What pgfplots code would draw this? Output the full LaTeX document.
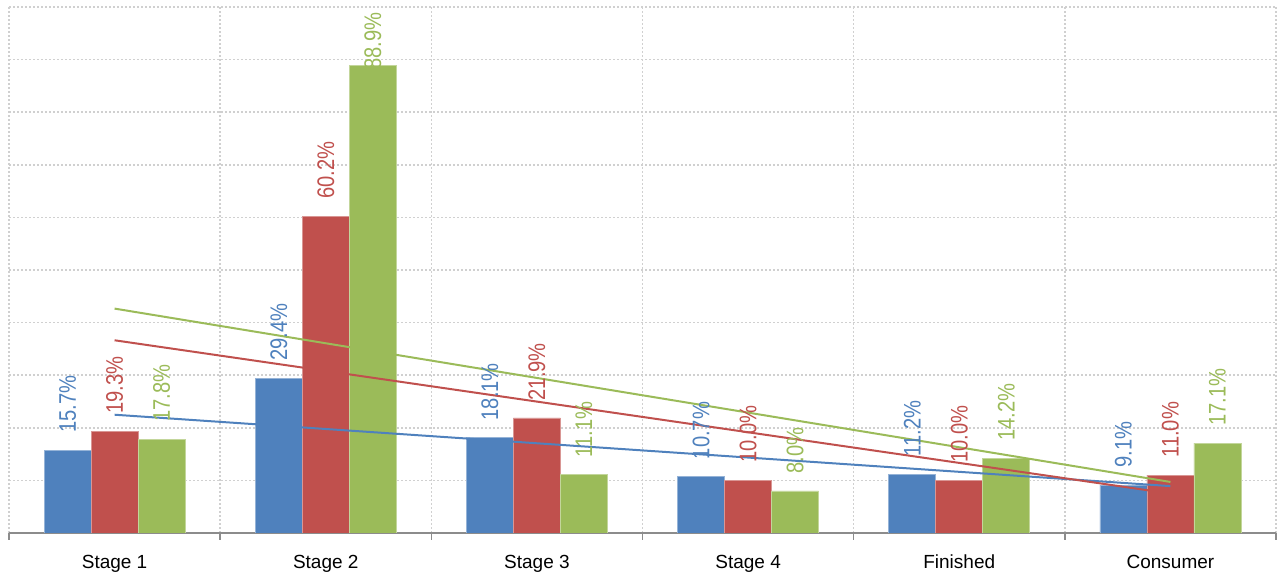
\documentclass[border=0pt]{standalone}
\usepackage{fontspec}
\setmainfont{Liberation Sans}
\newfontfamily\labfont{Liberation Sans}[FakeStretch=0.84]
\usepackage{pgfplots}
\usepackage{pgfplotstable}
\pgfplotsset{compat=1.18}
\definecolor{cblue}{HTML}{4F81BD}
\definecolor{cred}{HTML}{C0504D}
\definecolor{cgreen}{HTML}{9BBB59}
\definecolor{gridc}{HTML}{D0D0D0}
\definecolor{axc}{HTML}{8C8C8C}

\pgfplotstableread{
x blue red green
0 15.7 19.3 17.8
1 29.4 60.2 88.9
2 18.1 21.9 11.1
3 10.7 10.0 8.0
4 11.2 10.0 14.2
5 9.1 11.0 17.1
}\data

\pgfplotsset{
  labstyle/.style={draw=none, fill=none, forget plot, bar shift=#1,
    nodes near coords={\pgfmathprintnumber[fixed, fixed zerofill, precision=1]{\pgfplotspointmeta}\%},
    every node near coord/.append style={rotate=90, anchor=west, inner sep=0pt,
      font=\labfont\fontsize{24}{28}\selectfont}},
}

\begin{document}
\begin{tikzpicture}
\begin{axis}[
 scale only axis, width=1267pt, height=526pt,
 at={(0,0)}, anchor=south west,
 xmin=-0.5, xmax=5.5, ymin=0, ymax=100,
 ybar, bar width=0.2226,
 axis x line*=bottom, axis y line*=left,
 y axis line style={draw=none},
 x axis line style={axc, line width=1.6pt, -},
 xtick={0,...,5},
 xticklabels={Stage 1, Stage 2, Stage 3, Stage 4, Finished, Consumer},
 minor xtick={-0.5,0.5,...,5.5},
 major tick length=0pt,
 minor tick length=7pt,
 tick align=outside,
 minor tick style={axc, line width=1.6pt},
 ytick={0,10,...,100}, yticklabels={},
 ymajorgrids, xminorgrids,
 major grid style={gridc, line width=1.5pt, dash pattern=on 2pt off 2pt},
 minor grid style={gridc, line width=1.5pt, dash pattern=on 2pt off 2pt},
 xticklabel style={font=\fontsize{19}{22}\selectfont, inner sep=0pt, yshift=-22pt},
 /pgf/number format/assume math mode=true,
]
% value labels (drawn first so bars may cover them)
\addplot[labstyle=-0.2226, point meta={\thisrow{blue}},
  every node near coord/.append style={text=cblue}]
  table[x=x, y expr=\thisrow{blue}+3.3] {\data};
\addplot[labstyle=0, point meta={\thisrow{red}},
  every node near coord/.append style={text=cred}]
  table[x=x, y expr=\thisrow{red}+3.3] {\data};
\addplot[labstyle=0.2226, point meta={\thisrow{green}},
  every node near coord/.append style={text=cgreen}]
  table[x=x, y expr={min(\thisrow{green}+3.3,88)}] {\data};
% bars
\addplot[fill=cblue, draw=cblue!60!white, line width=0.6pt, bar shift=-0.2226] table[x=x, y=blue] {\data};
\addplot[fill=cred, draw=cred!60!white, line width=0.6pt, bar shift=0] table[x=x, y=red] {\data};
\addplot[fill=cgreen, draw=cgreen!60!white, line width=0.6pt, bar shift=0.2226] table[x=x, y=green] {\data};
% linear trend lines
\addplot[sharp plot, cblue, line width=2pt, mark=none, forget plot]
  table[x=x, y={create col/linear regression={y=blue}}] {\data};
\addplot[sharp plot, cred, line width=2pt, mark=none, forget plot]
  table[x=x, y={create col/linear regression={y=red}}] {\data};
\addplot[sharp plot, cgreen, line width=2pt, mark=none, forget plot]
  table[x=x, y={create col/linear regression={y=green}}] {\data};
\end{axis}
\pgfresetboundingbox
\path (-9pt,-42pt) rectangle (1269pt,533pt);
\end{tikzpicture}
\end{document}
